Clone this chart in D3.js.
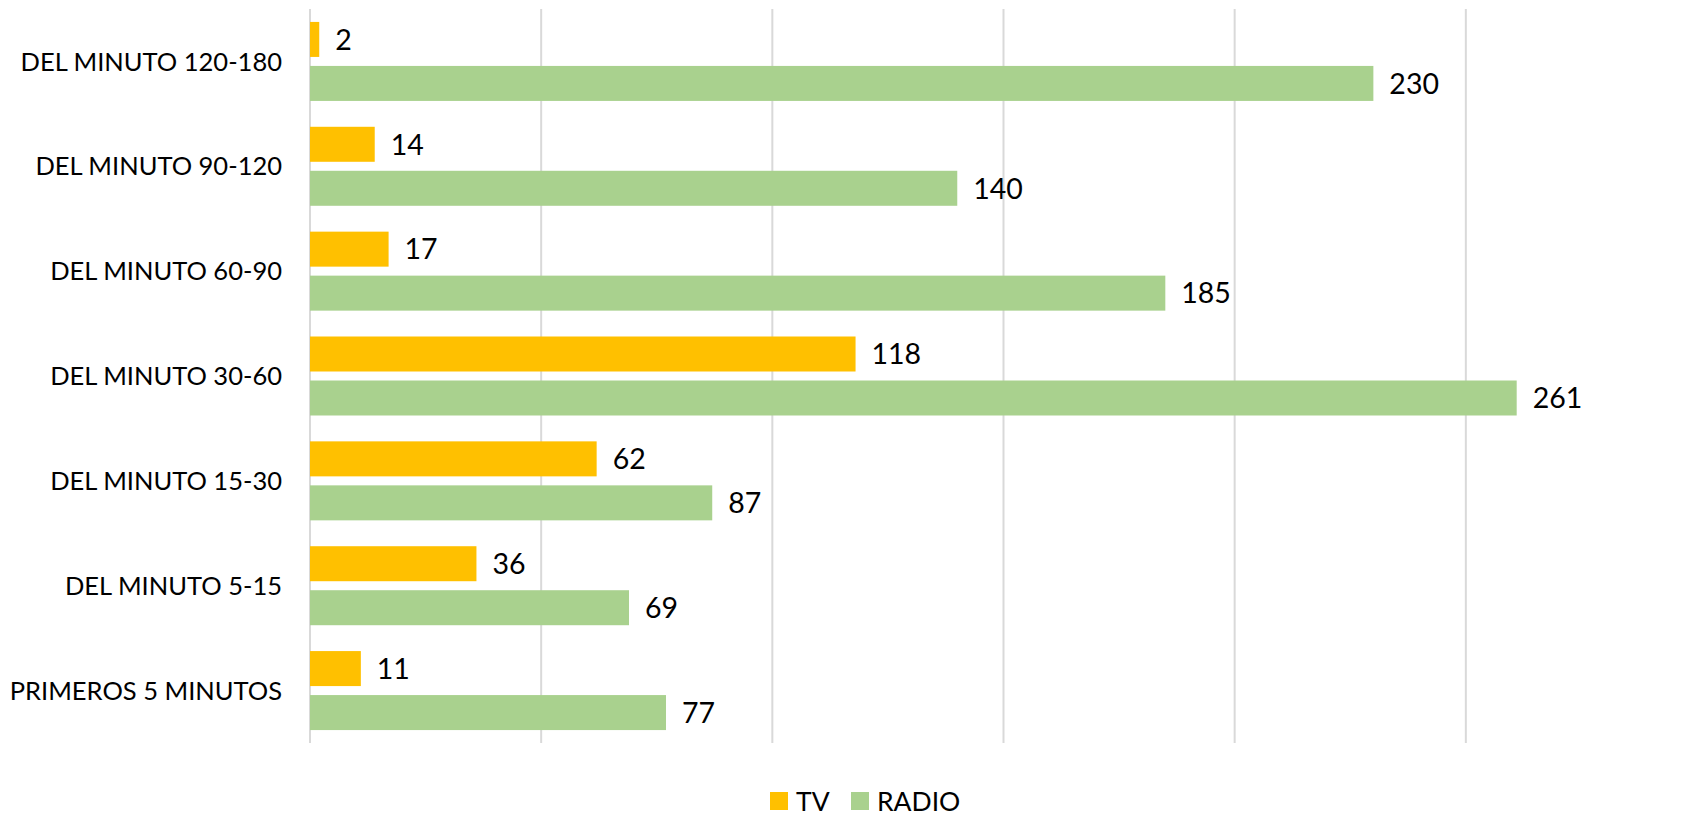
<!DOCTYPE html>
<html lang="en">
<head>
<meta charset="utf-8">
<script src="https://d3js.org/d3.v7.min.js"></script>
<style>
  body { margin: 0; background: #fff; }
  text { font-family: Lato, "Open Sans", sans-serif; fill: #000; }
</style>
</head>
<body>
<script>
// data
var categories = ["DEL MINUTO 120-180", "DEL MINUTO 90-120", "DEL MINUTO 60-90",
                  "DEL MINUTO 30-60", "DEL MINUTO 15-30", "DEL MINUTO 5-15", "PRIMEROS 5 MINUTOS"];
var seriesNames = ["TV", "RADIO"];
var tvValues = [2, 14, 17, 118, 62, 36, 11];
var radioValues = [230, 140, 185, 261, 87, 69, 77];
var xTicks = [0, 50, 100, 150, 200, 250];
var colors = ["#FFC000", "#A9D18E"];

var w = 1694, h = 817;
// plot area (named to avoid clashing with window.top)
var plotLeft = 310, plotRight = 1697, plotTop = 9, plotBottom = 743;

var svg = d3.select("body").append("svg")
    .attr("width", w)
    .attr("height", h);

var xScale = d3.scaleLinear().domain([0, 300]).range([plotLeft, plotRight]);
var yScale = d3.scaleBand().domain(categories).range([plotTop, plotBottom]).paddingInner(0.2466).paddingOuter(0.1233);
var ySub = d3.scaleBand().domain(seriesNames).range([0, yScale.bandwidth()]).paddingInner(0.2045);

// gridlines
svg.append("g").selectAll("line")
    .data(xTicks)
    .enter().append("line")
    .attr("x1", function(d) { return xScale(d); })
    .attr("x2", function(d) { return xScale(d); })
    .attr("y1", plotTop)
    .attr("y2", plotBottom)
    .style("stroke", "#D9D9D9")
    .style("stroke-width", 2);

// category labels
svg.append("g").selectAll("text")
    .data(categories)
    .enter().append("text")
    .attr("x", plotLeft - 28)
    .attr("y", function(d) { return yScale(d) + yScale.bandwidth() / 2; })
    .attr("dy", "0.36em")
    .attr("text-anchor", "end")
    .style("font-size", "25.5px")
    .text(function(d) { return d; });

var rows = categories.map(function(c, i) {
    return { cat: c, vals: [tvValues[i], radioValues[i]] };
});

var groups = svg.append("g").selectAll("g")
    .data(rows)
    .enter().append("g")
    .attr("transform", function(d) { return "translate(0," + yScale(d.cat) + ")"; });

groups.selectAll("rect")
    .data(function(d) { return d.vals; })
    .enter().append("rect")
    .attr("x", xScale(0))
    .attr("y", function(d, i) { return ySub(seriesNames[i]); })
    .attr("width", function(d) { return xScale(d) - xScale(0); })
    .attr("height", ySub.bandwidth())
    .style("fill", function(d, i) { return colors[i]; });

groups.selectAll("text")
    .data(function(d) { return d.vals; })
    .enter().append("text")
    .attr("x", function(d) { return xScale(d) + 16; })
    .attr("y", function(d, i) { return ySub(seriesNames[i]) + ySub.bandwidth() / 2; })
    .attr("dy", "0.36em")
    .style("font-size", "28.5px")
    .text(function(d) { return d; });

// legend
var legend = svg.append("g").attr("transform", "translate(770,792)");
var legendX = [0, 81];
seriesNames.forEach(function(s, i) {
    legend.append("rect")
        .attr("x", legendX[i]).attr("y", 0)
        .attr("width", 18).attr("height", 18)
        .style("fill", colors[i]);
    legend.append("text")
        .attr("x", legendX[i] + 26).attr("y", 9)
        .attr("dy", "0.36em")
        .style("font-size", "26.5px")
        .text(s);
});
</script>
</body>
</html>
